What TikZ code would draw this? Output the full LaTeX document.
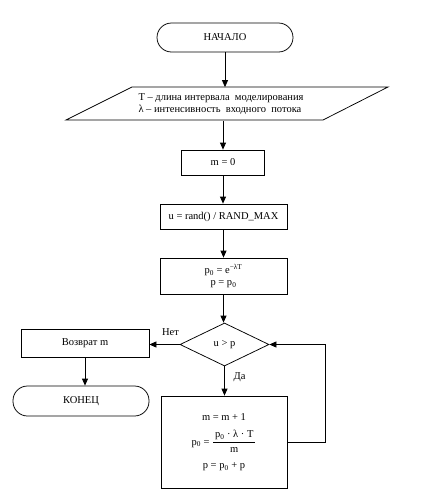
\documentclass[tikz,border=0pt]{standalone}
\usepackage{fontspec}
\setmainfont{Liberation Serif}
\usetikzlibrary{shapes.geometric,arrows.meta}
\begin{document}
\begin{tikzpicture}[x=1pt,y=-1pt, font=\fontsize{10.5}{12}\selectfont, line width=0.75pt,
 box/.style={draw, rectangle, inner sep=0pt, align=center},
 term/.style={draw, rectangle, rounded corners=14.5pt, inner sep=0pt},
 arr/.style={-{Triangle[length=7pt,width=6pt]}}]
\useasboundingbox (0,0) rectangle (439,501);
\node[term, minimum width=136pt, minimum height=29pt] (start) at (225,37.5) {НАЧАЛО};
\draw (66,120) -- (132,87) -- (388,87) -- (323,120) -- cycle;
\node[inner sep=0pt, minimum height=33pt, minimum width=150pt, align=left] (in) at (221,104)
 {T – длина интервала\ \ моделирования\\ λ\ – интенсивность\ \ входного\ \ потока};
\node[box, minimum width=83pt, minimum height=25pt] (m0) at (223,162.5) {m = 0};
\node[box, minimum width=127pt, minimum height=25pt] (u) at (223.5,216.5) {u = rand() / RAND\_MAX};
\node[box, minimum width=127pt, minimum height=36pt] (p0) at (223.5,276)
 {p\textsubscript{0} = e\textsuperscript{−λT}\\ p = p\textsubscript{0}};
\node[draw, diamond, inner sep=0pt, minimum width=89pt, minimum height=43pt] (d) at (224.5,344.5) {u > p};
\node[box, minimum width=128pt, minimum height=28pt] (ret) at (85,343) {Возврат m};
\node[term, minimum width=136pt, minimum height=30pt] (end) at (81,401) {КОНЕЦ};
\node[box, minimum width=126pt, minimum height=92pt] (loop) at (224,442)
 {m = m + 1\\[9pt]
  p\textsubscript{0} = $\displaystyle\frac{\hbox{\,p\textsubscript{0} · λ · T\,}}{\hbox{m}}$\\[9pt]
  p = p\textsubscript{0} + p};
\coordinate (lp) at (325,344.5);
\node (no) at (170.5,332) {Нет};
\node (yes) at (239.5,377) {Да};
\draw[arr] (start.south) -- (start.south |- in.north);
\draw[arr] (in.south -| m0.north) -- (m0.north);
\draw[arr] (m0.south) -- (m0.south |- u.north);
\draw[arr] (u.south) -- (p0.north);
\draw[arr] (p0.south) -- (p0.south |- d.north);
\draw[arr] (d.west) -- (d.west -| ret.east);
\draw[arr] (d.south) -- (d.south |- loop.north);
\draw[arr] (ret.south) -- (ret.south |- end.north);
\draw[arr] (loop.east) -| (lp) -- (d.east);
\end{tikzpicture}
\end{document}
